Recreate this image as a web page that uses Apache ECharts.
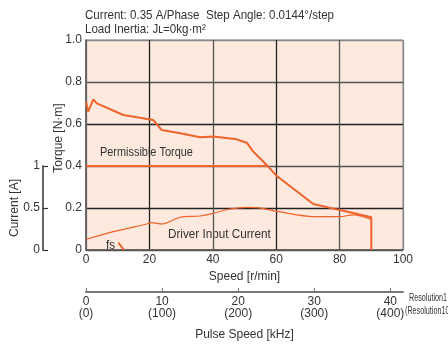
<!DOCTYPE html>
<html><head><meta charset="utf-8">
<script src="https://cdn.jsdelivr.net/npm/echarts@6/dist/echarts.min.js"></script>
<style>html,body{margin:0;padding:0;background:#fff}#c{width:448px;height:344px}</style>
</head><body><div id="c"></div>
<script>
// ---- data ----
const speedTicks = [0, 20, 40, 60, 80, 100];
const torqueTicks = [0, 0.2, 0.4, 0.6, 0.8, 1.0];
const currentTicks = [0, 0.5, 1];
const pulseTicks = [0, 10, 20, 30, 40];
const pulseTicksRes10 = [0, 100, 200, 300, 400];

const pulloutSpeed  = [0, 0.7, 2.3, 3.4, 11.8, 21.2, 23.9, 29.7, 36.0, 40.2, 47.5, 50.7, 52.8, 57.0, 60.2, 71.7, 80.1, 90.0, 90.0];
const pulloutTorque = [0.706, 0.659, 0.717, 0.698, 0.643, 0.619, 0.571, 0.556, 0.537, 0.54, 0.527, 0.511, 0.468, 0.405, 0.352, 0.219, 0.19, 0.156, 0];

const permSpeed  = [0, 57.5];
const permTorque = [0.4, 0.4];

const currentSpeed = [0.2, 8.6, 19.2, 20.7, 23.9, 29.7, 36.0, 40.2, 45.4, 50.7, 53.8, 61.2, 71.7, 80.1, 84.3, 90.0];
const currentAmp   = [0.128, 0.218, 0.31, 0.325, 0.31, 0.39, 0.405, 0.4375, 0.488, 0.508, 0.505, 0.453, 0.398, 0.398, 0.418, 0.365];

const fsSpeed  = [10.2, 12.0];
const fsTorque = [0.035, 0];

// ---- chart ----
const FONT = '"Liberation Sans",Arial,sans-serif';
const ORANGE = '#f0632b';
const zip = (a, b) => a.map((v, i) => [v, b[i]]);

const chart = echarts.init(document.getElementById('c'), null, {renderer: 'canvas'});
const txt = {fontFamily: FONT, fontSize: 12, color: '#333'};
const gtext = (x, y, s, size, sx) => ({type: 'text', x: x, y: y, scaleX: sx, scaleY: 1,
  style: {text: s, font: size + 'px ' + FONT, fill: '#333', textVerticalAlign: 'top'}});

chart.setOption({
  animation: false,
  textStyle: {fontFamily: FONT},
  grid: [
    {left: 86, top: 40, width: 317, height: 210, show: true, backgroundColor: '#fde9dd', borderColor: '#888', borderWidth: 1},
    {left: 43, top: 166, width: 20, height: 84},
    {left: 86, top: 291, width: 317, height: 1}
  ],
  xAxis: [
    {gridIndex: 0, type: 'value', min: 0, max: 100, interval: 20,
     axisLine: {lineStyle: {color: '#555', width: 1.5}}, axisTick: {show: false},
     axisLabel: Object.assign({margin: 4}, txt),
     splitLine: {lineStyle: {color: ['#888', '#222', '#555', '#222', '#555', '#888'], width: 1.3}},
     name: 'Speed [r/min]', nameLocation: 'middle', nameGap: 21, nameMoveOverlap: false, nameTextStyle: txt},
    {gridIndex: 1, type: 'value', min: 0, max: 1, show: true,
     axisLine: {show: false}, axisTick: {show: false}, axisLabel: {show: false}, splitLine: {show: false}},
    {gridIndex: 2, type: 'value', min: 0, max: 100 / 2.4, position: 'bottom',
     axisLine: {lineStyle: {color: '#777', width: 2}},
     axisTick: {inside: true, length: 4, lineStyle: {color: '#777'}, customValues: pulseTicks},
     axisLabel: Object.assign({margin: 4, lineHeight: 12, customValues: pulseTicks,
       formatter: v => v + '\n(' + pulseTicksRes10[pulseTicks.indexOf(v)] + ')'}, txt),
     splitLine: {show: false},
     name: 'Pulse Speed [kHz]', nameLocation: 'middle', nameGap: 37, nameMoveOverlap: false, nameTextStyle: txt}
  ],
  yAxis: [
    {gridIndex: 0, type: 'value', min: 0, max: 1, interval: 0.2,
     axisLine: {show: true, lineStyle: {color: '#555', width: 1.5}}, axisTick: {show: false},
     axisLabel: Object.assign({margin: 4, formatter: v => v === 0 ? '0' : v.toFixed(1)}, txt),
     splitLine: {lineStyle: {color: ['#555', '#222', '#555', '#222', '#555', '#888'], width: 1.3}},
     name: 'Torque [N·m]', nameLocation: 'middle', nameGap: 21, nameMoveOverlap: false,
     nameTextStyle: Object.assign({padding: [0, 0, 0, 14]}, txt)},
    {gridIndex: 0, type: 'value', min: 0, max: 2.5, show: false},
    {gridIndex: 1, type: 'value', min: 0, max: 1, interval: 0.5, position: 'left', show: true,
     axisLine: {show: true, onZero: false, lineStyle: {color: '#333', width: 1.5}},
     axisTick: {show: true, inside: true, length: 5, lineStyle: {color: '#333', width: 1.2}},
     axisLabel: Object.assign({margin: 3, formatter: v => String(v)}, txt),
     splitLine: {show: false},
     name: 'Current [A]', nameLocation: 'middle', nameGap: 22, nameMoveOverlap: false, nameTextStyle: txt},
    {gridIndex: 2, type: 'value', show: false}
  ],
  series: [
    {type: 'line', xAxisIndex: 0, yAxisIndex: 0, data: zip(pulloutSpeed, pulloutTorque), symbol: 'none',
     lineStyle: {color: ORANGE, width: 2}},
    {type: 'line', xAxisIndex: 0, yAxisIndex: 0, data: zip(permSpeed, permTorque), symbol: 'none',
     lineStyle: {color: ORANGE, width: 2}},
    {type: 'line', xAxisIndex: 0, yAxisIndex: 1, data: zip(currentSpeed, currentAmp), symbol: 'none', smooth: 0.3,
     lineStyle: {color: ORANGE, width: 1.2}},
    {type: 'line', xAxisIndex: 0, yAxisIndex: 0, data: zip(fsSpeed, fsTorque), symbol: 'none',
     lineStyle: {color: ORANGE, width: 2}}
  ],
  graphic: [
    gtext(85, 9, 'Current: 0.35 A/Phase  Step Angle: 0.0144°/step', 13, 0.89),
    gtext(85, 23, 'Load Inertia: J\u029F=0kg·m²', 13, 0.89),
    gtext(100, 146, 'Permissible Torque', 13, 0.84),
    gtext(168, 228, 'Driver Input Current', 13, 0.9),
    gtext(106, 239, 'fs', 13, 0.9),
    gtext(409, 293, 'Resolution1', 10, 0.72),
    gtext(405, 306, '(Resolution10)', 10, 0.72)
  ]
});
</script></body></html>
